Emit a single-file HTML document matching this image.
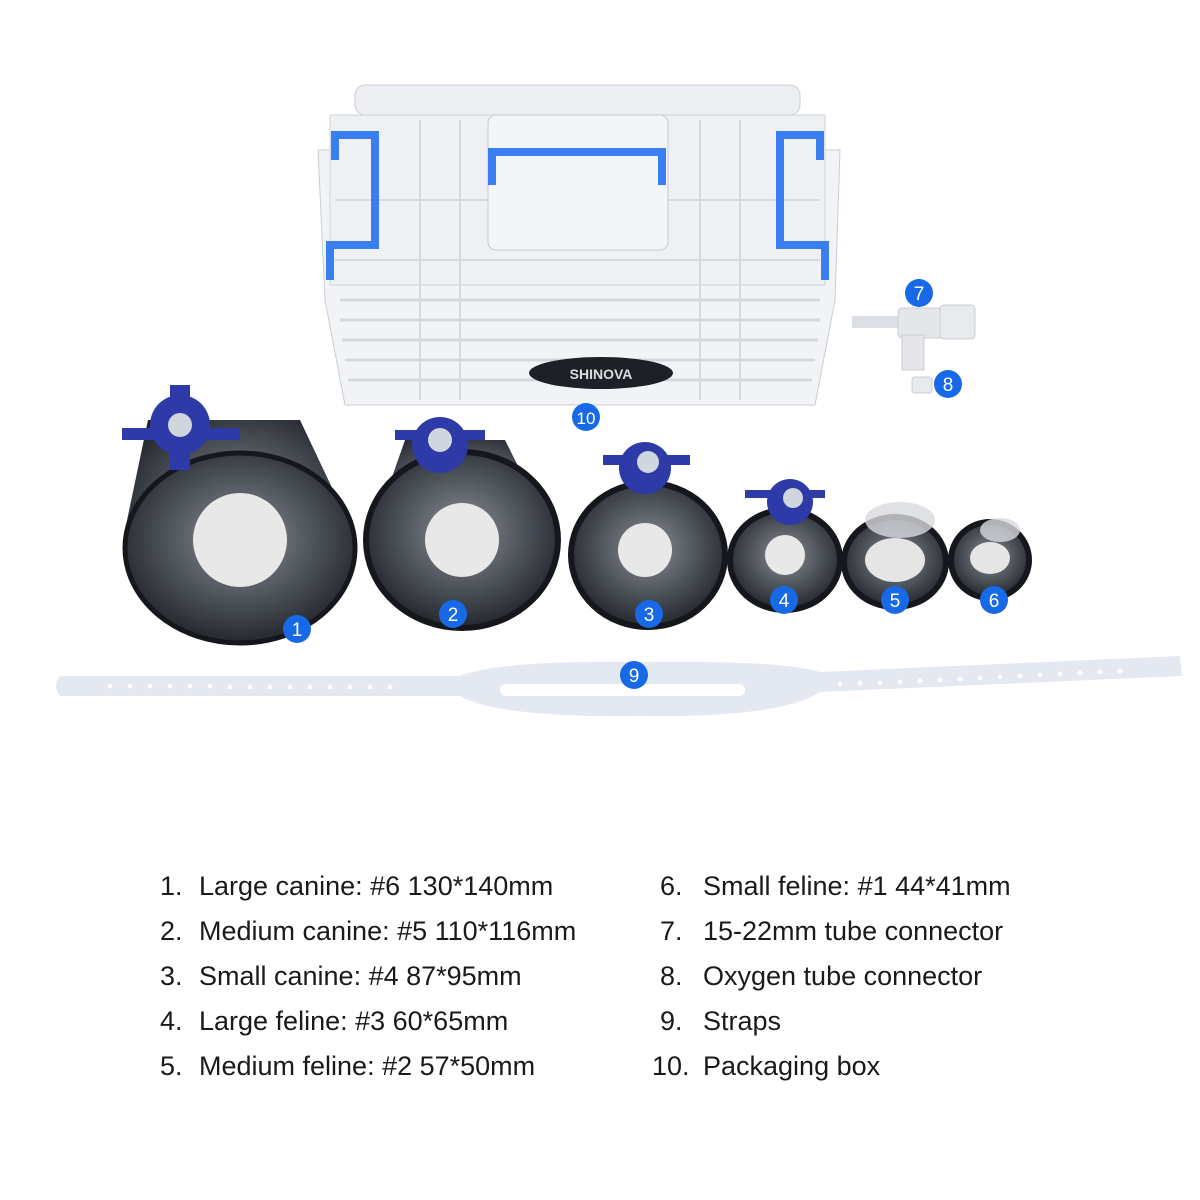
<!DOCTYPE html>
<html><head><meta charset="utf-8"><style>
html,body{margin:0;padding:0;background:#fff;width:1200px;height:1200px;overflow:hidden;position:relative;font-family:"Liberation Sans",sans-serif}
.t{position:absolute;font-size:27px;color:#1a1a1a;white-space:nowrap;line-height:30px}
</style></head><body>
<svg width="1200" height="1200" style="position:absolute;left:0;top:0">
<defs>
<radialGradient id="mk" cx="50%" cy="45%" r="60%"><stop offset="0" stop-color="#8a8f96"/><stop offset="0.7" stop-color="#3c4048"/><stop offset="1" stop-color="#1c1e24"/></radialGradient>
</defs>
<rect x="355" y="85" width="445" height="30" rx="10" fill="#eceef2" stroke="#c9ced6"/>
<path d="M318 150 L840 150 L835 300 L815 405 L345 405 L325 300 Z" fill="#f2f3f6" stroke="#c8cdd5"/>
<rect x="330" y="115" width="495" height="170" fill="#eef0f4" stroke="#cfd4db"/>
<g stroke="#d6dae0" stroke-width="2">
<line x1="420" y1="120" x2="420" y2="400"/><line x1="460" y1="120" x2="460" y2="400"/><line x1="700" y1="120" x2="700" y2="400"/><line x1="740" y1="120" x2="740" y2="400"/>
<line x1="335" y1="200" x2="820" y2="200"/><line x1="335" y1="260" x2="820" y2="260"/>
</g>
<g stroke="#d3d7de" stroke-width="3">
<line x1="340" y1="300" x2="820" y2="300"/><line x1="340" y1="320" x2="820" y2="320"/><line x1="342" y1="340" x2="818" y2="340"/><line x1="345" y1="360" x2="815" y2="360"/><line x1="348" y1="380" x2="812" y2="380"/>
</g>
<rect x="488" y="115" width="180" height="135" rx="8" fill="#f4f5f8" stroke="#c5cad2"/>
<path d="M492 185 L492 152 L662 152 L662 185" fill="none" stroke="#3a7ff0" stroke-width="8"/>
<path d="M350 135 L335 135 L335 160 M350 135 L375 135 L375 245 L330 245 L330 280" fill="none" stroke="#3a7ff0" stroke-width="8"/>
<path d="M805 135 L820 135 L820 160 M805 135 L780 135 L780 245 L825 245 L825 280" fill="none" stroke="#3a7ff0" stroke-width="8"/>
<ellipse cx="601" cy="373" rx="72" ry="16" fill="#1e2028"/>
<text x="601" y="379" font-family="Liberation Sans" font-weight="bold" font-size="14" fill="#ddd" text-anchor="middle">SHINOVA</text>
<rect x="852" y="316" width="50" height="12" fill="#dcdfe4"/>
<rect x="898" y="308" width="45" height="30" rx="4" fill="#e4e6ea" stroke="#c8ccd2"/>
<rect x="940" y="305" width="35" height="34" rx="4" fill="#e8eaee" stroke="#c8ccd2"/>
<rect x="902" y="335" width="22" height="35" fill="#e4e6ea" stroke="#c8ccd2"/>
<rect x="912" y="377" width="20" height="16" rx="3" fill="#e8eaee" stroke="#c8ccd2"/>
<path d="M148 420 L300 420 L352 530 A115 110 0 0 1 125 530 Z" fill="url(#mk)"/>
<ellipse cx="240" cy="548" rx="115" ry="95" fill="url(#mk)" stroke="#15171c" stroke-width="5"/>
<circle cx="240" cy="540" r="47" fill="#e8e8e8"/>
<path d="M405 440 L505 440 L555 540 L370 540 Z" fill="url(#mk)"/>
<ellipse cx="462" cy="540" rx="96" ry="88" fill="url(#mk)" stroke="#15171c" stroke-width="6"/>
<circle cx="462" cy="540" r="37" fill="#e8e8e8"/>
<ellipse cx="648" cy="555" rx="77" ry="72" fill="url(#mk)" stroke="#15171c" stroke-width="6"/>
<circle cx="645" cy="550" r="27" fill="#e8e8e8"/>
<ellipse cx="785" cy="560" rx="55" ry="50" fill="url(#mk)" stroke="#15171c" stroke-width="6"/>
<circle cx="785" cy="555" r="20" fill="#e8e8e8"/>
<ellipse cx="895" cy="562" rx="51" ry="45" fill="url(#mk)" stroke="#15171c" stroke-width="6"/>
<ellipse cx="895" cy="560" rx="30" ry="22" fill="#e5e5e5"/>
<ellipse cx="900" cy="520" rx="35" ry="18" fill="#d8dade" opacity=".8"/>
<ellipse cx="990" cy="560" rx="39" ry="38" fill="url(#mk)" stroke="#15171c" stroke-width="6"/>
<ellipse cx="990" cy="558" rx="20" ry="16" fill="#e5e5e5"/>
<ellipse cx="1000" cy="530" rx="20" ry="12" fill="#d8dade" opacity=".8"/>
<g fill="#2d3aa8">
<circle cx="180" cy="425" r="30"/><path d="M122 428 L240 428 L240 440 L122 440Z M170 385 L190 385 L190 470 L170 470Z"/>
<circle cx="440" cy="445" r="28"/><path d="M395 430 L485 430 L485 440 L395 440Z"/>
<circle cx="645" cy="468" r="26"/><path d="M603 455 L690 455 L690 465 L603 465Z"/>
<circle cx="790" cy="502" r="23"/><path d="M745 490 L825 490 L825 498 L745 498Z"/>
</g>
<g fill="#cfd6dd"><circle cx="180" cy="425" r="12"/><circle cx="440" cy="440" r="12"/><circle cx="648" cy="462" r="11"/><circle cx="793" cy="498" r="10"/></g>
<path d="M60 676 L460 676 Q500 660 640 662 Q780 660 820 672 L1180 656 L1182 676 L820 692 Q780 718 640 716 Q500 718 460 696 L60 696 Q52 686 60 676 Z" fill="#e4e8f0"/>
<rect x="500" y="684" width="245" height="12" rx="6" fill="#fff"/>
<g fill="#fff">
<circle cx="110" cy="686" r="2.5"/><circle cx="130" cy="686" r="2.5"/><circle cx="150" cy="686" r="2.5"/><circle cx="170" cy="686" r="2.5"/><circle cx="190" cy="686" r="2.5"/><circle cx="210" cy="686" r="2.5"/><circle cx="230" cy="687" r="2.5"/><circle cx="250" cy="687" r="2.5"/><circle cx="270" cy="687" r="2.5"/><circle cx="290" cy="687" r="2.5"/><circle cx="310" cy="687" r="2.5"/><circle cx="330" cy="687" r="2.5"/><circle cx="350" cy="687" r="2.5"/><circle cx="370" cy="687" r="2.5"/><circle cx="390" cy="687" r="2.5"/>
<circle cx="840" cy="684" r="2.5"/><circle cx="860" cy="683" r="2.5"/><circle cx="880" cy="683" r="2.5"/><circle cx="900" cy="682" r="2.5"/><circle cx="920" cy="681" r="2.5"/><circle cx="940" cy="680" r="2.5"/><circle cx="960" cy="679" r="2.5"/><circle cx="980" cy="678" r="2.5"/><circle cx="1000" cy="677" r="2.5"/><circle cx="1020" cy="676" r="2.5"/><circle cx="1040" cy="675" r="2.5"/><circle cx="1060" cy="674" r="2.5"/><circle cx="1080" cy="673" r="2.5"/><circle cx="1100" cy="672" r="2.5"/><circle cx="1120" cy="671" r="2.5"/>
</g>
<g font-family="Liberation Sans" font-size="19" fill="#fff" text-anchor="middle">
<g fill="#1769e6"><circle cx="297" cy="629" r="14"/><circle cx="453" cy="614" r="14"/><circle cx="649" cy="614" r="14"/><circle cx="784" cy="600" r="14"/><circle cx="895" cy="600" r="14"/><circle cx="994" cy="600" r="14"/><circle cx="919" cy="293" r="14"/><circle cx="948" cy="384" r="14"/><circle cx="634" cy="675" r="14"/><circle cx="586" cy="417" r="14"/></g>
<text x="297" y="636">1</text><text x="453" y="621">2</text><text x="649" y="621">3</text><text x="784" y="607">4</text><text x="895" y="607">5</text><text x="994" y="607">6</text><text x="919" y="300">7</text><text x="948" y="391">8</text><text x="634" y="682">9</text><text x="586" y="424" font-size="17">10</text>
</g>
</svg>
<div class="t" style="left:160px;top:871px">1.</div><div class="t" style="left:199px;top:871px">Large canine: #6 130*140mm</div>
<div class="t" style="left:160px;top:916px">2.</div><div class="t" style="left:199px;top:916px">Medium canine: #5 110*116mm</div>
<div class="t" style="left:160px;top:961px">3.</div><div class="t" style="left:199px;top:961px">Small canine: #4 87*95mm</div>
<div class="t" style="left:160px;top:1006px">4.</div><div class="t" style="left:199px;top:1006px">Large feline: #3 60*65mm</div>
<div class="t" style="left:160px;top:1051px">5.</div><div class="t" style="left:199px;top:1051px">Medium feline: #2 57*50mm</div>
<div class="t" style="left:660px;top:871px">6.</div><div class="t" style="left:703px;top:871px">Small feline: #1 44*41mm</div>
<div class="t" style="left:660px;top:916px">7.</div><div class="t" style="left:703px;top:916px">15-22mm tube connector</div>
<div class="t" style="left:660px;top:961px">8.</div><div class="t" style="left:703px;top:961px">Oxygen tube connector</div>
<div class="t" style="left:660px;top:1006px">9.</div><div class="t" style="left:703px;top:1006px">Straps</div>
<div class="t" style="left:652px;top:1051px">10.</div><div class="t" style="left:703px;top:1051px">Packaging box</div>
</body></html>
